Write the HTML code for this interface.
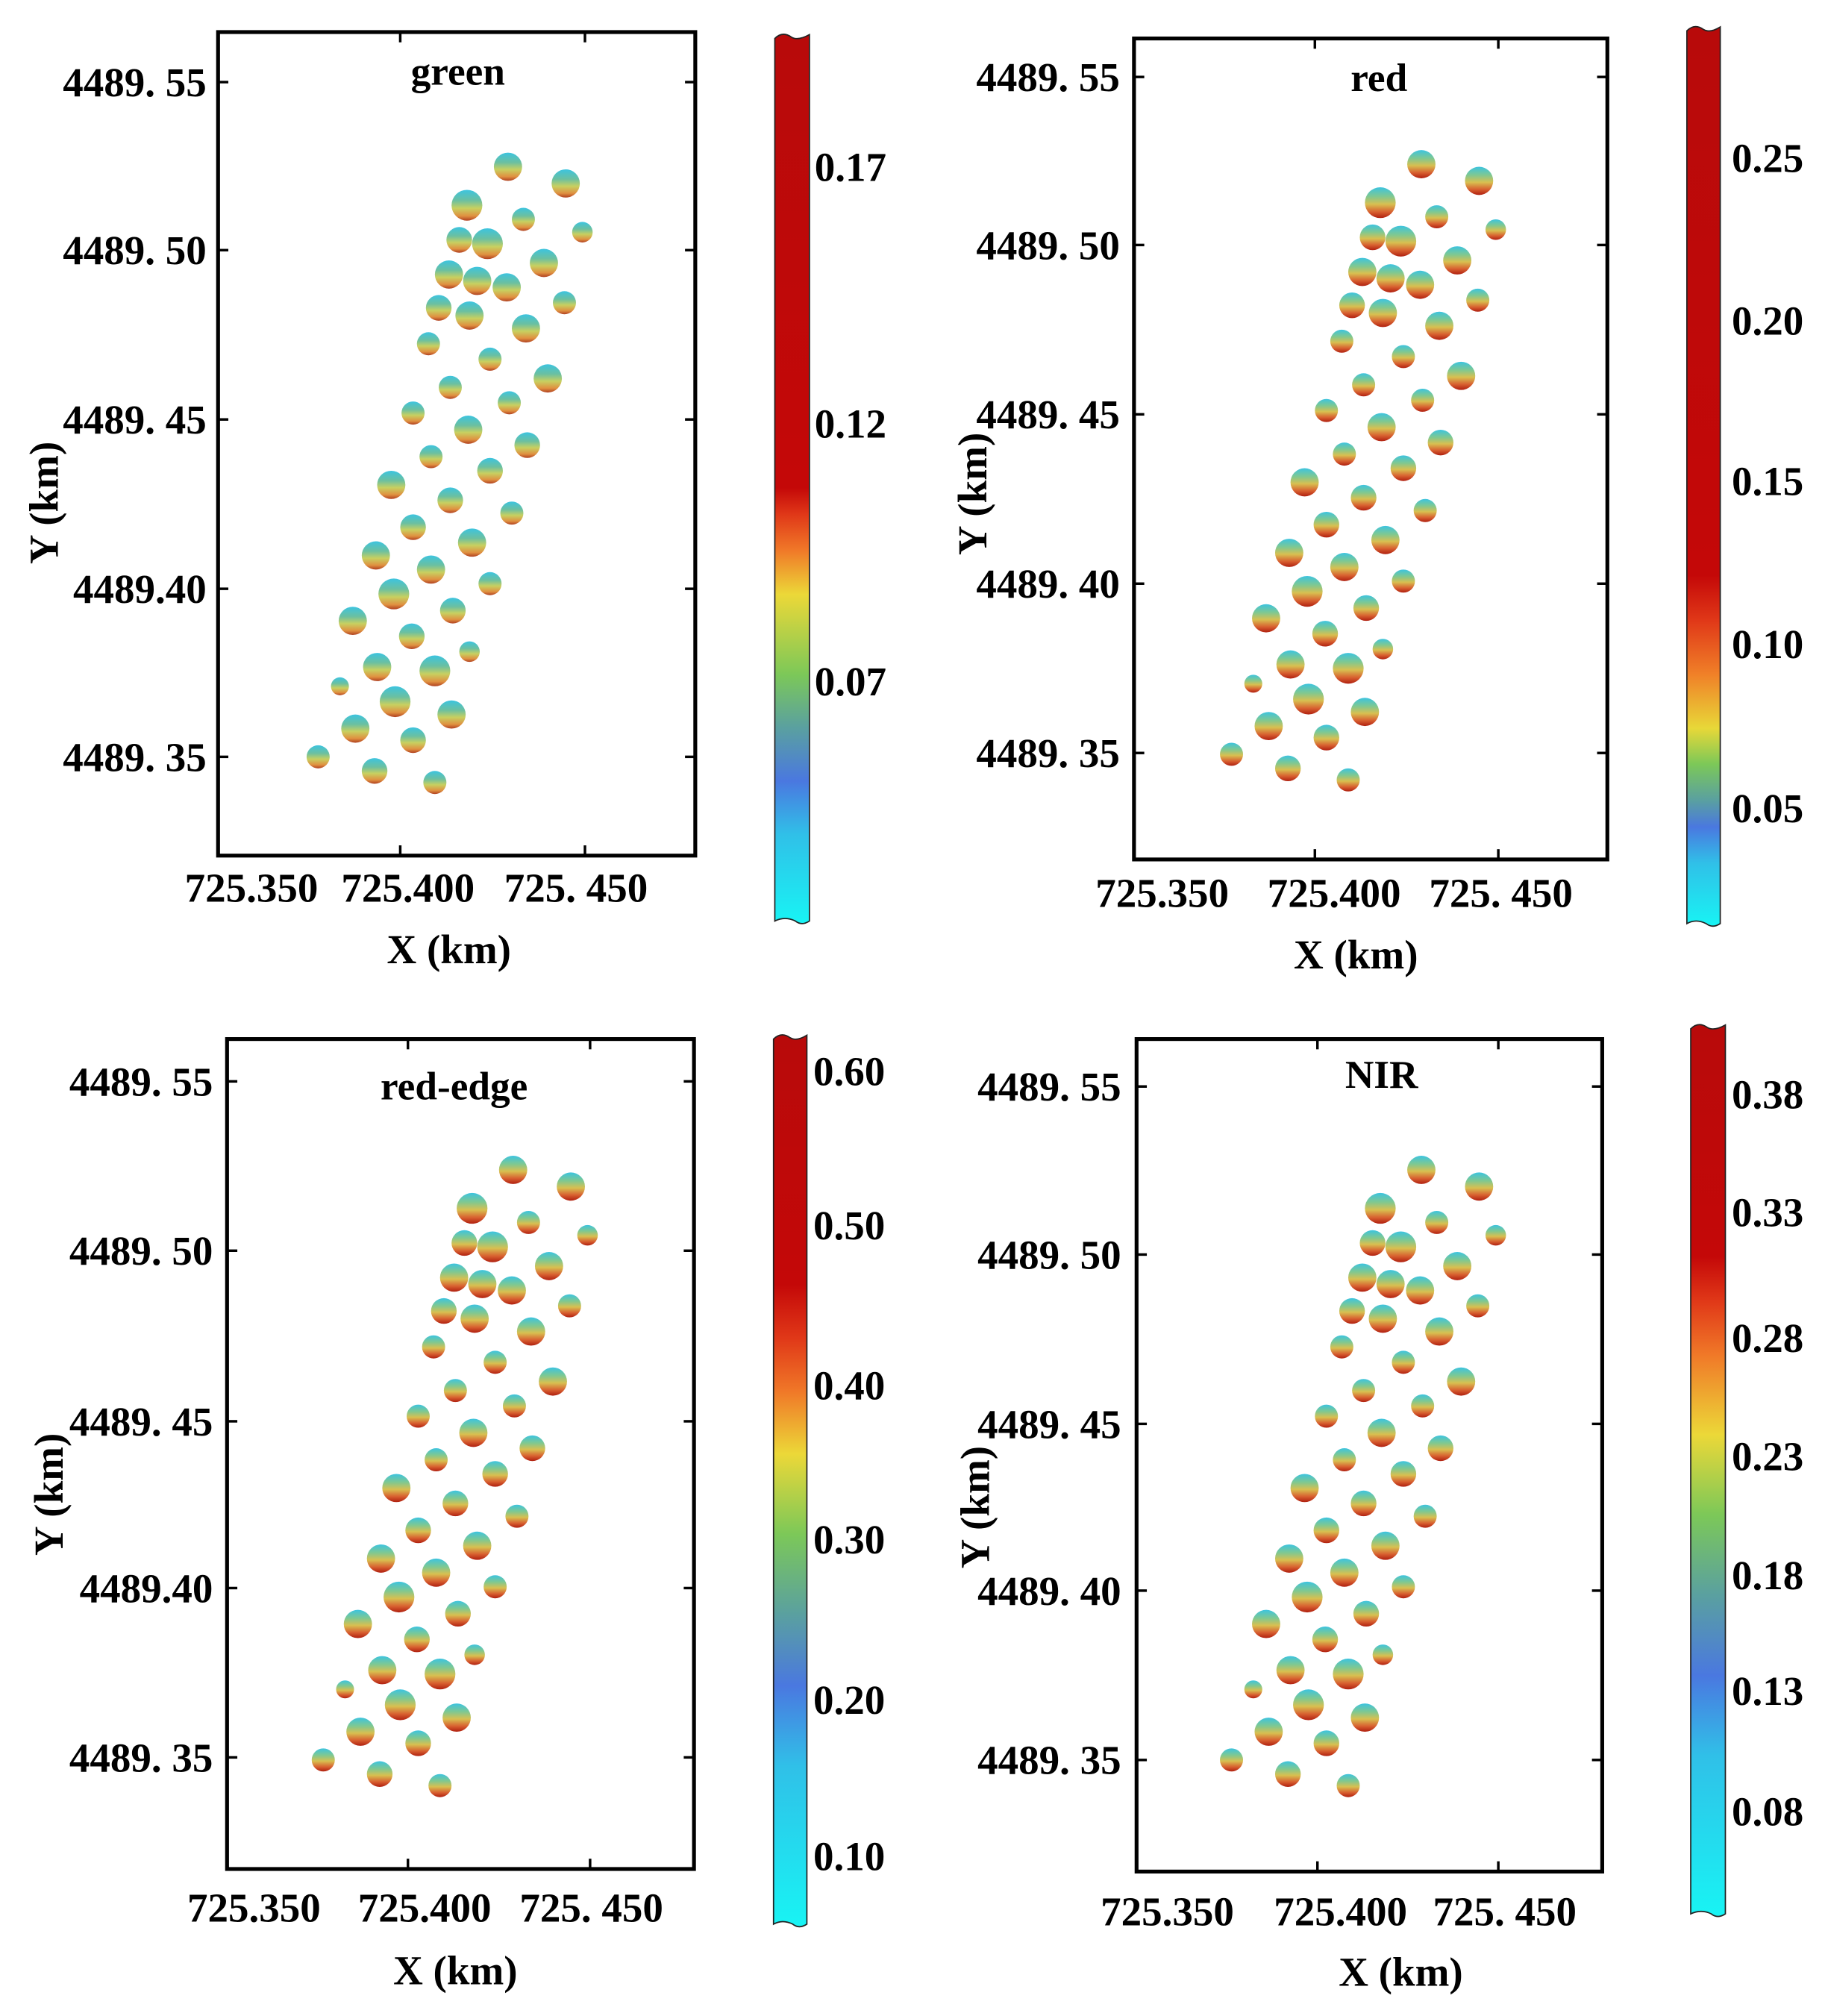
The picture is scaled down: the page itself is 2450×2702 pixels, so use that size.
<!DOCTYPE html>
<html><head><meta charset="utf-8"><style>html,body{margin:0;padding:0;background:#fff}svg{display:block}</style></head>
<body>
<svg width="2450" height="2702" viewBox="0 0 1425 1571.6" preserveAspectRatio="none" xmlns="http://www.w3.org/2000/svg" font-family="'Liberation Serif', serif" font-weight="bold">
<defs>
<linearGradient id="bg" x1="0" y1="0" x2="0" y2="1">
<stop offset="0" stop-color="#3cc4e0"/><stop offset="0.35" stop-color="#6cc0a0"/><stop offset="0.6" stop-color="#c8d060"/><stop offset="0.85" stop-color="#e09040"/><stop offset="1" stop-color="#b04020"/></linearGradient>
<linearGradient id="bgr" x1="0" y1="0" x2="0" y2="1">
<stop offset="0" stop-color="#3cc4e0"/><stop offset="0.3" stop-color="#80c890"/><stop offset="0.55" stop-color="#d8c050"/><stop offset="0.8" stop-color="#d86030"/><stop offset="1" stop-color="#b02010"/></linearGradient>
<g id="bl">
<circle cx="396" cy="130" r="11"/><circle cx="441" cy="143" r="11"/><circle cx="364" cy="160" r="12"/><circle cx="408" cy="171" r="9"/><circle cx="454" cy="181" r="8"/>
<circle cx="358" cy="187" r="10"/><circle cx="380" cy="190" r="12"/><circle cx="424" cy="205" r="11"/><circle cx="350" cy="214" r="11"/><circle cx="372" cy="219" r="11"/>
<circle cx="395" cy="224" r="11"/><circle cx="440" cy="236" r="9"/><circle cx="342" cy="240" r="10"/><circle cx="366" cy="246" r="11"/><circle cx="410" cy="256" r="11"/>
<circle cx="334" cy="268" r="9"/><circle cx="382" cy="280" r="9"/><circle cx="427" cy="295" r="11"/><circle cx="351" cy="302" r="9"/><circle cx="322" cy="322" r="9"/>
<circle cx="397" cy="314" r="9"/><circle cx="365" cy="335" r="11"/><circle cx="411" cy="347" r="10"/><circle cx="336" cy="356" r="9"/><circle cx="382" cy="367" r="10"/>
<circle cx="305" cy="378" r="11"/><circle cx="351" cy="390" r="10"/><circle cx="322" cy="411" r="10"/><circle cx="368" cy="423" r="11"/><circle cx="399" cy="400" r="9"/>
<circle cx="293" cy="433" r="11"/><circle cx="336" cy="444" r="11"/><circle cx="382" cy="455" r="9"/><circle cx="307" cy="463" r="12"/><circle cx="353" cy="476" r="10"/>
<circle cx="275" cy="484" r="11"/><circle cx="321" cy="496" r="10"/><circle cx="366" cy="508" r="8"/><circle cx="294" cy="520" r="11"/><circle cx="339" cy="523" r="12"/>
<circle cx="265" cy="535" r="7"/><circle cx="308" cy="547" r="12"/><circle cx="352" cy="557" r="11"/><circle cx="277" cy="568" r="11"/><circle cx="322" cy="577" r="10"/>
<circle cx="248" cy="590" r="9"/><circle cx="292" cy="601" r="10"/><circle cx="339" cy="610" r="9"/>
</g>
<linearGradient id="c1" x1="0" y1="0" x2="0" y2="1">
<stop offset="0" stop-color="#b80a0a"/><stop offset="0.51" stop-color="#c40808"/><stop offset="0.54" stop-color="#e03818"/><stop offset="0.58" stop-color="#f07828"/><stop offset="0.63" stop-color="#ecd838"/><stop offset="0.72" stop-color="#7cc858"/><stop offset="0.78" stop-color="#5aa0a0"/><stop offset="0.84" stop-color="#4a78e0"/><stop offset="0.9" stop-color="#30c0e8"/><stop offset="1" stop-color="#18f4f4"/></linearGradient>
<linearGradient id="c2" x1="0" y1="0" x2="0" y2="1">
<stop offset="0" stop-color="#b80a0a"/><stop offset="0.61" stop-color="#c40808"/><stop offset="0.66" stop-color="#e03818"/><stop offset="0.72" stop-color="#f08028"/><stop offset="0.78" stop-color="#e8d838"/><stop offset="0.82" stop-color="#7cc858"/><stop offset="0.86" stop-color="#5aa0a0"/><stop offset="0.89" stop-color="#4a78e0"/><stop offset="0.93" stop-color="#30c0e8"/><stop offset="1" stop-color="#18f4f4"/></linearGradient>
<linearGradient id="c3" x1="0" y1="0" x2="0" y2="1">
<stop offset="0" stop-color="#b80a0a"/><stop offset="0.28" stop-color="#c40808"/><stop offset="0.34" stop-color="#e03818"/><stop offset="0.4" stop-color="#f07828"/><stop offset="0.47" stop-color="#ecd838"/><stop offset="0.56" stop-color="#7cc858"/><stop offset="0.65" stop-color="#5aa0a0"/><stop offset="0.73" stop-color="#4a78e0"/><stop offset="0.82" stop-color="#30c0e8"/><stop offset="1" stop-color="#18f4f4"/></linearGradient>
<linearGradient id="c4" x1="0" y1="0" x2="0" y2="1">
<stop offset="0" stop-color="#b80a0a"/><stop offset="0.26" stop-color="#c40808"/><stop offset="0.31" stop-color="#e03818"/><stop offset="0.37" stop-color="#f07828"/><stop offset="0.46" stop-color="#ecd838"/><stop offset="0.55" stop-color="#7cc858"/><stop offset="0.64" stop-color="#5aa0a0"/><stop offset="0.73" stop-color="#4a78e0"/><stop offset="0.82" stop-color="#30c0e8"/><stop offset="1" stop-color="#18f4f4"/></linearGradient>
</defs>

<!-- Panel 1 -->
<g fill="url(#bg)"><use href="#bl"/></g>
<rect x="170" y="25" width="372" height="642" fill="none" stroke="#000" stroke-width="3"/>
<g stroke="#000" stroke-width="2">
<line x1="170" y1="64" x2="178" y2="64"/><line x1="170" y1="195" x2="178" y2="195"/><line x1="170" y1="327" x2="178" y2="327"/><line x1="170" y1="459" x2="178" y2="459"/><line x1="170" y1="590" x2="178" y2="590"/>
<line x1="542" y1="64" x2="534" y2="64"/><line x1="542" y1="195" x2="534" y2="195"/><line x1="542" y1="327" x2="534" y2="327"/><line x1="542" y1="459" x2="534" y2="459"/><line x1="542" y1="590" x2="534" y2="590"/>
<line x1="312" y1="667" x2="312" y2="659"/><line x1="456" y1="667" x2="456" y2="659"/><line x1="312" y1="25" x2="312" y2="33"/><line x1="456" y1="25" x2="456" y2="33"/></g>
<g font-size="32" text-anchor="end"><text x="161" y="75">4489. 55</text><text x="161" y="206">4489. 50</text><text x="161" y="338">4489. 45</text><text x="161" y="470">4489.40</text><text x="161" y="601">4489. 35</text></g>
<g font-size="32" text-anchor="middle"><text x="196" y="703">725.350</text><text x="318" y="703">725.400</text><text x="449" y="703">725. 450</text></g>
<text x="350" y="751" font-size="32" text-anchor="middle">X (km)</text>
<text transform="translate(45,392) rotate(-90)" font-size="32" text-anchor="middle">Y (km)</text>
<text x="357" y="66" font-size="31" text-anchor="middle">green</text>
<path d="M604,30 Q610,24 617,29 Q622,32 631,27 L631,718 Q625,722 620,718 Q612,714 604,718 Z" fill="url(#c1)" stroke="#222" stroke-width="1"/>
<g font-size="32"><text x="635" y="141">0.17</text><text x="635" y="341">0.12</text><text x="635" y="542">0.07</text></g>

<!-- Panel 2 -->
<g fill="url(#bgr)" transform="translate(712,-2)"><use href="#bl"/></g>
<rect x="884" y="30" width="369" height="640" fill="none" stroke="#000" stroke-width="3"/>
<g stroke="#000" stroke-width="2">
<line x1="884" y1="60" x2="892" y2="60"/><line x1="884" y1="191" x2="892" y2="191"/><line x1="884" y1="323" x2="892" y2="323"/><line x1="884" y1="455" x2="892" y2="455"/><line x1="884" y1="587" x2="892" y2="587"/>
<line x1="1253" y1="60" x2="1245" y2="60"/><line x1="1253" y1="191" x2="1245" y2="191"/><line x1="1253" y1="323" x2="1245" y2="323"/><line x1="1253" y1="455" x2="1245" y2="455"/><line x1="1253" y1="587" x2="1245" y2="587"/>
<line x1="1025" y1="670" x2="1025" y2="662"/><line x1="1168" y1="670" x2="1168" y2="662"/><line x1="1025" y1="30" x2="1025" y2="38"/><line x1="1168" y1="30" x2="1168" y2="38"/></g>
<g font-size="32" text-anchor="end"><text x="873" y="71">4489. 55</text><text x="873" y="202">4489. 50</text><text x="873" y="334">4489. 45</text><text x="873" y="466">4489. 40</text><text x="873" y="598">4489. 35</text></g>
<g font-size="32" text-anchor="middle"><text x="906" y="707">725.350</text><text x="1040" y="707">725.400</text><text x="1170" y="707">725. 450</text></g>
<text x="1057" y="755" font-size="32" text-anchor="middle">X (km)</text>
<text transform="translate(769,385) rotate(-90)" font-size="32" text-anchor="middle">Y (km)</text>
<text x="1075" y="71" font-size="31" text-anchor="middle">red</text>
<path d="M1315,24 Q1321,18 1328,23 Q1333,26 1341,21 L1341,720 Q1335,724 1330,720 Q1322,716 1315,720 Z" fill="url(#c2)" stroke="#222" stroke-width="1"/>
<g font-size="32"><text x="1350" y="134">0.25</text><text x="1350" y="261">0.20</text><text x="1350" y="386">0.15</text><text x="1350" y="513">0.10</text><text x="1350" y="641">0.05</text></g>

<!-- Panel 3 -->
<g fill="url(#bgr)" transform="translate(4,782)"><use href="#bl"/></g>
<rect x="177" y="810" width="364" height="647" fill="none" stroke="#000" stroke-width="3"/>
<g stroke="#000" stroke-width="2">
<line x1="177" y1="843" x2="185" y2="843"/><line x1="177" y1="975" x2="185" y2="975"/><line x1="177" y1="1108" x2="185" y2="1108"/><line x1="177" y1="1238" x2="185" y2="1238"/><line x1="177" y1="1370" x2="185" y2="1370"/>
<line x1="541" y1="843" x2="533" y2="843"/><line x1="541" y1="975" x2="533" y2="975"/><line x1="541" y1="1108" x2="533" y2="1108"/><line x1="541" y1="1238" x2="533" y2="1238"/><line x1="541" y1="1370" x2="533" y2="1370"/>
<line x1="318" y1="1457" x2="318" y2="1449"/><line x1="460" y1="1457" x2="460" y2="1449"/><line x1="318" y1="810" x2="318" y2="818"/><line x1="460" y1="810" x2="460" y2="818"/></g>
<g font-size="32" text-anchor="end"><text x="166" y="854">4489. 55</text><text x="166" y="986">4489. 50</text><text x="166" y="1119">4489. 45</text><text x="166" y="1249">4489.40</text><text x="166" y="1381">4489. 35</text></g>
<g font-size="32" text-anchor="middle"><text x="198" y="1498">725.350</text><text x="331" y="1498">725.400</text><text x="461" y="1498">725. 450</text></g>
<text x="355" y="1547" font-size="32" text-anchor="middle">X (km)</text>
<text transform="translate(49,1165) rotate(-90)" font-size="32" text-anchor="middle">Y (km)</text>
<text x="354" y="857" font-size="31" text-anchor="middle">red-edge</text>
<path d="M603,810 Q609,804 616,809 Q621,812 629,807 L629,1500 Q623,1504 618,1500 Q610,1496 603,1500 Z" fill="url(#c3)" stroke="#222" stroke-width="1"/>
<g font-size="32"><text x="634" y="846">0.60</text><text x="634" y="966">0.50</text><text x="634" y="1091">0.40</text><text x="634" y="1211">0.30</text><text x="634" y="1336">0.20</text><text x="634" y="1458">0.10</text></g>

<!-- Panel 4 -->
<g fill="url(#bgr)" transform="translate(712,782)"><use href="#bl"/></g>
<rect x="886" y="810" width="363" height="649" fill="none" stroke="#000" stroke-width="3"/>
<g stroke="#000" stroke-width="2">
<line x1="886" y1="847" x2="894" y2="847"/><line x1="886" y1="978" x2="894" y2="978"/><line x1="886" y1="1110" x2="894" y2="1110"/><line x1="886" y1="1240" x2="894" y2="1240"/><line x1="886" y1="1372" x2="894" y2="1372"/>
<line x1="1249" y1="847" x2="1241" y2="847"/><line x1="1249" y1="978" x2="1241" y2="978"/><line x1="1249" y1="1110" x2="1241" y2="1110"/><line x1="1249" y1="1240" x2="1241" y2="1240"/><line x1="1249" y1="1372" x2="1241" y2="1372"/>
<line x1="1027" y1="1459" x2="1027" y2="1451"/><line x1="1168" y1="1459" x2="1168" y2="1451"/><line x1="1027" y1="810" x2="1027" y2="818"/><line x1="1168" y1="810" x2="1168" y2="818"/></g>
<g font-size="32" text-anchor="end"><text x="874" y="858">4489. 55</text><text x="874" y="989">4489. 50</text><text x="874" y="1121">4489. 45</text><text x="874" y="1251">4489. 40</text><text x="874" y="1383">4489. 35</text></g>
<g font-size="32" text-anchor="middle"><text x="910" y="1501">725.350</text><text x="1045" y="1501">725.400</text><text x="1173" y="1501">725. 450</text></g>
<text x="1092" y="1548" font-size="32" text-anchor="middle">X (km)</text>
<text transform="translate(771,1175) rotate(-90)" font-size="32" text-anchor="middle">Y (km)</text>
<text x="1077" y="848" font-size="31" text-anchor="middle">NIR</text>
<path d="M1318,802 Q1324,796 1331,801 Q1336,804 1345,799 L1345,1492 Q1339,1496 1334,1492 Q1326,1488 1318,1492 Z" fill="url(#c4)" stroke="#222" stroke-width="1"/>
<g font-size="32"><text x="1350" y="864">0.38</text><text x="1350" y="956">0.33</text><text x="1350" y="1054">0.28</text><text x="1350" y="1146">0.23</text><text x="1350" y="1239">0.18</text><text x="1350" y="1329">0.13</text><text x="1350" y="1423">0.08</text></g>
</svg>
</body></html>
